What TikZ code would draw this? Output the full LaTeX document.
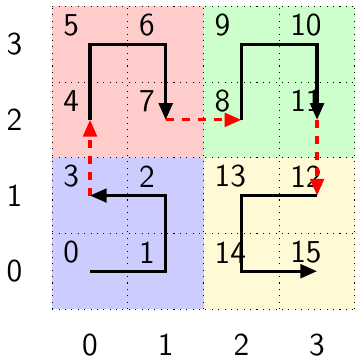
\documentclass[tikz,border=0pt]{standalone}
\usetikzlibrary{arrows.meta}

\definecolor{cream}{RGB}{255,249,214}
\tikzset{
  num/.style={anchor=south west, inner sep=0pt},
  axis/.style={inner sep=0pt},
  curve/.style={line width=1.2pt, -{Triangle[length=2.2mm,width=1.8mm]}},
  jump/.style={line width=1.2pt, red, dashed, -{Triangle[length=2.2mm,width=1.8mm]}},
}

\begin{document}
\begin{tikzpicture}[every node/.style={font=\sffamily}]
  \useasboundingbox (-1.19,-1.16) rectangle (3.5,3.584);

  % quadrants
  \fill[blue!20] (-0.5,-0.5) rectangle (1.5,1.5);
  \fill[red!20] (-0.5,1.5) rectangle (1.5,3.5);
  \fill[green!20] (1.5,1.5) rectangle (3.5,3.5);
  \fill[cream] (1.5,-0.5) rectangle (3.5,1.5);
  \draw[dotted, xshift=-0.5cm, yshift=-0.5cm] (0,0) grid (4,4);

  % cells in curve order
  \foreach \i/\x/\y in {0/0/0, 1/1/0, 2/1/1, 3/0/1, 4/0/2, 5/0/3, 6/1/3, 7/1/2,
                        8/2/2, 9/2/3, 10/3/3, 11/3/2, 12/3/1, 13/2/1, 14/2/0, 15/3/0} {
    \coordinate (p\i) at (\x,\y);
    \node[num] (n\i) at ([shift={(-0.36,0.1)}]p\i) {\large \i};
  }
  \foreach \k in {0,...,3} {
    \node[axis] (x\k) at (\k,-0.97) {\large \k};
    \node[axis] (y\k) at (-1,\k) {\large \k};
  }

  \draw[jump] (p3) -- (p4);
  \draw[jump] (p7) -- (p8);
  \draw[jump] (p11) -- (p12);
  \draw[curve] (p0) -- (p1) -- (p2) -- (p3);
  \draw[curve] (p4) -- (p5) -- (p6) -- (p7);
  \draw[curve] (p8) -- (p9) -- (p10) -- (p11);
  \draw[curve] (p12) -- (p13) -- (p14) -- (p15);
\end{tikzpicture}
\end{document}
